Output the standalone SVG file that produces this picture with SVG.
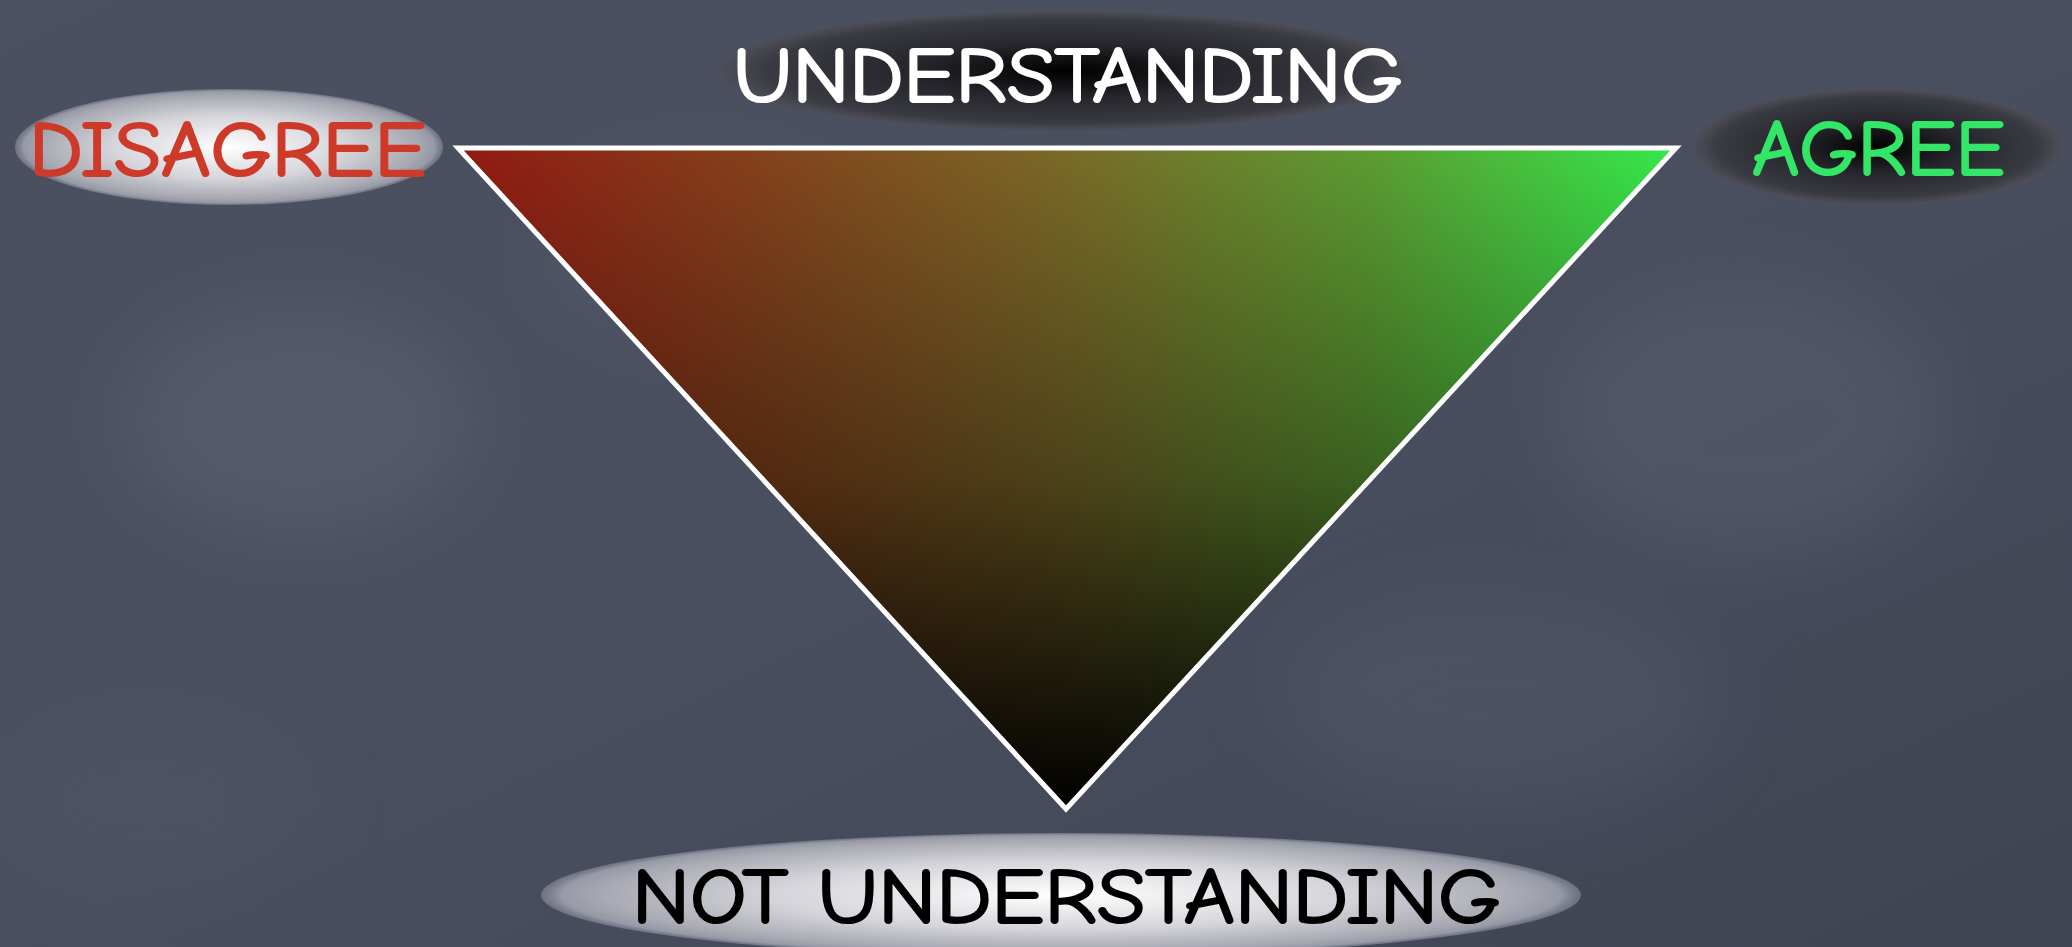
<svg xmlns="http://www.w3.org/2000/svg" width="2072" height="947" viewBox="0 0 2072 947">
<defs>
<style>
.lbl{font-family:"Comic Sans MS","Comic Neue","DejaVu Sans","Liberation Sans",sans-serif;font-size:78px;font-weight:normal;stroke-width:2.2;stroke-linejoin:round;}
</style>
<linearGradient id="bg" x1="0" y1="0" x2="1" y2="1">
<stop offset="0" stop-color="#4b5060"/>
<stop offset="0.5" stop-color="#4a4f5f"/>
<stop offset="1" stop-color="#3f4352"/>
</linearGradient>
<filter id="blur" x="-50%" y="-50%" width="200%" height="200%"><feGaussianBlur stdDeviation="40"/></filter>
<linearGradient id="hz" x1="458" y1="0" x2="1676" y2="0" gradientUnits="userSpaceOnUse">
<stop offset="0" stop-color="#921a12"/>
<stop offset="0.25" stop-color="#84421c"/>
<stop offset="0.5" stop-color="#7a6a28"/>
<stop offset="0.75" stop-color="#5c9c32"/>
<stop offset="1" stop-color="#33ea4b"/>
</linearGradient>
<linearGradient id="vt" x1="0" y1="148" x2="0" y2="809" gradientUnits="userSpaceOnUse">
<stop offset="0" stop-color="#000" stop-opacity="0"/>
<stop offset="0.5" stop-color="#000" stop-opacity="0.38"/>
<stop offset="1" stop-color="#000" stop-opacity="1"/>
</linearGradient>
<radialGradient id="lightGlow" cx="0.5" cy="0.5" r="0.5">
<stop offset="0" stop-color="#ffffff"/>
<stop offset="0.55" stop-color="#d4d4da"/>
<stop offset="0.88" stop-color="#a8a9b2"/>
<stop offset="0.96" stop-color="#969aa6"/>
<stop offset="1" stop-color="#7e8190" stop-opacity="0.7"/>
</radialGradient>
<radialGradient id="darkGlow" cx="0.5" cy="0.5" r="0.5">
<stop offset="0" stop-color="#000000"/>
<stop offset="0.45" stop-color="#26262c"/>
<stop offset="0.85" stop-color="#3a3a42"/>
<stop offset="0.95" stop-color="#4a4a54"/>
<stop offset="1" stop-color="#4c505e" stop-opacity="0.7"/>
</radialGradient>
</defs>
<rect width="2072" height="947" fill="url(#bg)"/>
<g filter="url(#blur)" opacity="0.3">
<ellipse cx="300" cy="420" rx="180" ry="120" fill="#6a7086"/>
<ellipse cx="1750" cy="420" rx="200" ry="140" fill="#666c82"/>
<ellipse cx="700" cy="250" rx="160" ry="90" fill="#60667a"/>
<ellipse cx="1500" cy="700" rx="220" ry="110" fill="#5e6478"/>
<ellipse cx="150" cy="800" rx="160" ry="90" fill="#55596a"/>
</g>
<g id="connectors"/>
<g id="triangle">
<polygon points="458,148 1676,148 1066,809" fill="url(#hz)"/>
<polygon points="458,148 1676,148 1066,809" fill="url(#vt)" stroke="#ffffff" stroke-width="5" stroke-linejoin="miter"/>
</g>
<g id="disagree">
<ellipse cx="229" cy="147" rx="214" ry="58" fill="url(#lightGlow)"/>
<text class="lbl" x="29" y="176" fill="#cd3a2a" stroke="#cd3a2a" textLength="397" lengthAdjust="spacingAndGlyphs">DISAGREE</text>
</g>
<g id="understanding">
<ellipse cx="1066" cy="71" rx="352" ry="61" fill="url(#darkGlow)"/>
<text class="lbl" x="733" y="102" fill="#ffffff" stroke="#ffffff" textLength="670" lengthAdjust="spacingAndGlyphs">UNDERSTANDING</text>
</g>
<g id="agree">
<ellipse cx="1878" cy="147" rx="188" ry="59" fill="url(#darkGlow)"/>
<text class="lbl" x="1752" y="175" fill="#33e668" stroke="#33e668" textLength="253" lengthAdjust="spacingAndGlyphs">AGREE</text>
</g>
<g id="not-understanding">
<ellipse cx="1061" cy="895" rx="520" ry="62" fill="url(#lightGlow)"/>
<text class="lbl" x="632" y="923" fill="#000000" stroke="#000000" textLength="869" lengthAdjust="spacingAndGlyphs">NOT UNDERSTANDING</text>
</g>
</svg>
